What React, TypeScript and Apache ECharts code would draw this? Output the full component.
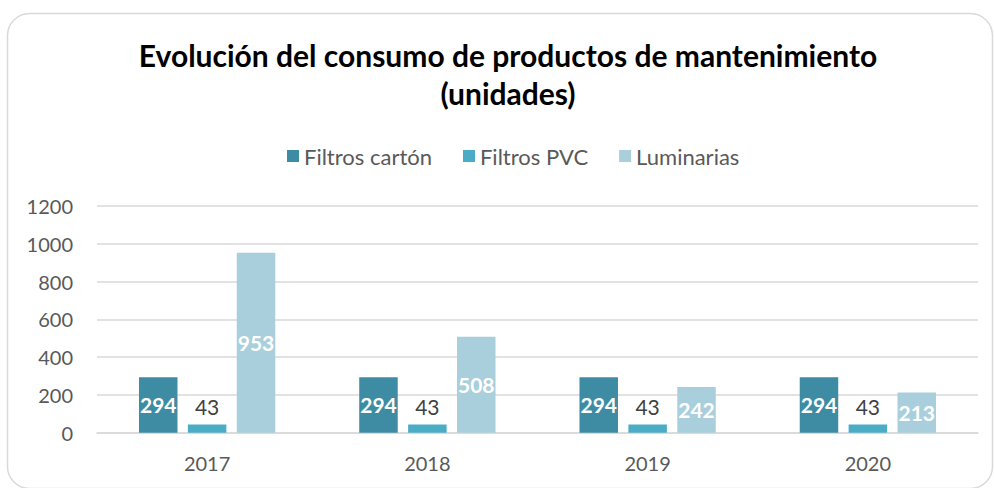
import React, { useEffect, useRef } from "react";
import * as echarts from "echarts";

const categories = ["2017", "2018", "2019", "2020"];
const filtrosCarton = [294, 294, 294, 294];
const filtrosPVC = [43, 43, 43, 43];
const luminarias = [953, 508, 242, 213];
const seriesNames = ["Filtros cartón", "Filtros PVC", "Luminarias"];
const titleText = "Evolución del consumo de productos de mantenimiento\n(unidades)";

const FONT = "Lato";

export default function App() {
  const ref = useRef<HTMLDivElement>(null);
  useEffect(() => {
    if (!ref.current) return;
    const chart = echarts.init(ref.current, null, { renderer: "svg" });
    const whiteLabel = {
      show: true,
      position: "inside",
      color: "#ffffff",
      fontWeight: "bold",
      fontSize: 21,
      fontFamily: FONT,
    };
    chart.setOption({
      animation: false,
      backgroundColor: "#ffffff",
      title: {
        text: titleText,
        left: 503,
        top: 31,
        textAlign: "center",
        textStyle: {
          fontFamily: FONT,
          fontWeight: "bold",
          fontSize: 30,
          lineHeight: 38,
          color: "#000000",
        },
      },
      legend: {
        data: seriesNames,
        left: 282,
        top: 140,
        icon: "rect",
        itemWidth: 12,
        itemHeight: 12,
        itemGap: 31,
        textStyle: { fontFamily: FONT, fontSize: 22, color: "#595959" },
      },
      graphic: [
        {
          type: "rect",
          shape: { x: 7.5, y: 13.5, width: 985, height: 475, r: 22 },
          style: { fill: "none", stroke: "#d9d9d9", lineWidth: 1.5 },
          silent: true,
        },
      ],
      grid: { left: 97, right: 16, top: 206, bottom: 55.3 },
      xAxis: {
        type: "category",
        data: categories,
        axisLine: { lineStyle: { color: "#d9d9d9", width: 1.5 } },
        axisTick: { show: false },
        axisLabel: { fontFamily: FONT, fontSize: 20, color: "#595959", margin: 20 },
      },
      yAxis: {
        type: "value",
        min: 0,
        max: 1200,
        interval: 200,
        axisLine: { show: false },
        axisTick: { show: false },
        splitLine: { lineStyle: { color: "#d9d9d9", width: 1.5 } },
        axisLabel: {
          fontFamily: FONT,
          fontSize: 20,
          color: "#595959",
          margin: 24,
          formatter: (v: number) => String(v),
        },
      },
      series: [
        {
          name: seriesNames[0],
          type: "bar",
          data: filtrosCarton,
          barWidth: 38.5,
          barGap: "27%",
          itemStyle: { color: "#3d8ca3" },
          label: whiteLabel,
        },
        {
          name: seriesNames[1],
          type: "bar",
          data: filtrosPVC,
          barWidth: 38.5,
          barGap: "27%",
          itemStyle: { color: "#4bacc6" },
          label: {
            show: true,
            position: "top",
            distance: 8,
            color: "#404040",
            fontSize: 21,
            fontFamily: FONT,
          },
        },
        {
          name: seriesNames[2],
          type: "bar",
          data: luminarias,
          barWidth: 38.5,
          barGap: "27%",
          itemStyle: { color: "#a9cfdc" },
          label: whiteLabel,
        },
      ],
    });
    return () => chart.dispose();
  }, []);
  return (
    <div
      ref={ref}
      style={{ position: "absolute", left: 0, top: 0, width: 994, height: 488 }}
    />
  );
}
